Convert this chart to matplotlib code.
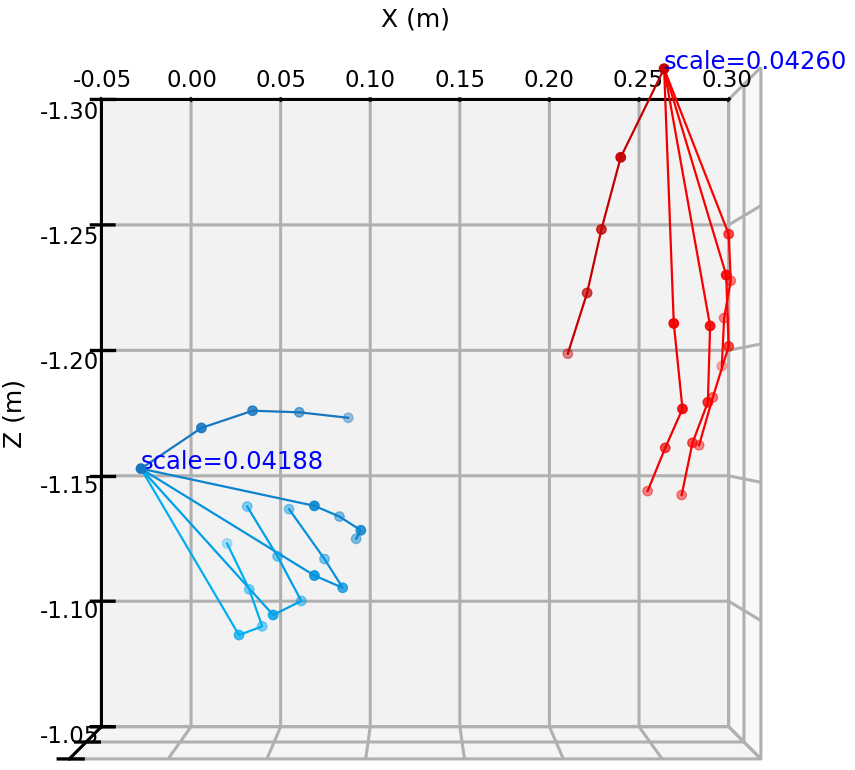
import numpy as np
import matplotlib
matplotlib.use('Agg')
import matplotlib.pyplot as plt

plt.rcParams['font.family'] = ['DejaVu Sans']
plt.rcParams['font.size'] = 16.5
plt.rcParams['grid.linewidth'] = 2.2
plt.rcParams['axes.linewidth'] = 2.2
plt.rcParams['xtick.major.width'] = 2.2
plt.rcParams['ytick.major.width'] = 2.2

# ---- data: 21 keypoints per hand (wrist, thumb x4, index x4, middle x4, ring x4, pinky x4)
blue_x = [-0.0194,
          0.0121, 0.0390, 0.0633, 0.0892,
          0.0718, 0.0846, 0.0963, 0.0935,
          0.0718, 0.0866, 0.0766, 0.0576,
          0.0499, 0.0642, 0.0515, 0.0352,
          0.0316, 0.0433, 0.0364, 0.0240]
blue_y = [0.480,
          0.486, 0.489, 0.503, 0.514,
          0.486, 0.509, 0.489, 0.509,
          0.486, 0.494, 0.509, 0.511,
          0.489, 0.509, 0.509, 0.511,
          0.494, 0.509, 0.509, 0.520]
blue_z = [-1.1541,
          -1.1694, -1.1759, -1.1753, -1.1732,
          -1.1400, -1.1355, -1.1307, -1.1270,
          -1.1137, -1.1088, -1.1193, -1.1383,
          -1.0987, -1.1033, -1.1203, -1.1393,
          -1.0909, -1.0936, -1.1077, -1.1250]

red_x = [0.2562,
         0.2335, 0.2237, 0.2164, 0.2067,
         0.2615, 0.2663, 0.2579, 0.2494,
         0.2809, 0.2801, 0.2726, 0.2676,
         0.2894, 0.2916, 0.2841, 0.2769,
         0.2916, 0.2937, 0.2903, 0.2898]
red_y = [0.480,
         0.483, 0.491, 0.497, 0.511,
         0.483, 0.486, 0.497, 0.511,
         0.486, 0.491, 0.500, 0.511,
         0.486, 0.497, 0.509, 0.511,
         0.497, 0.509, 0.511, 0.520]
red_z = [-1.3046,
         -1.2714, -1.2445, -1.2206, -1.1977,
         -1.2088, -1.1766, -1.1618, -1.1452,
         -1.2079, -1.1791, -1.1637, -1.1437,
         -1.2271, -1.2003, -1.1810, -1.1627,
         -1.2429, -1.2255, -1.2113, -1.1930]

blue_scale_text = "scale=0.04188"
red_scale_text = "scale=0.04260"

fingers = [[0, 1, 2, 3, 4], [0, 5, 6, 7, 8], [0, 9, 10, 11, 12],
           [0, 13, 14, 15, 16], [0, 17, 18, 19, 20]]
blue_colors = ['#1676bf', '#0a84cf', '#0392dc', '#00a0e8', '#00aef2']
red_colors = ['#c40000', '#f00000', '#f60000', '#fa0000', '#ff0000']

x_ticks = [-0.05, 0.00, 0.05, 0.10, 0.15, 0.20, 0.25, 0.30]
z_ticks = [-1.30, -1.25, -1.20, -1.15, -1.10, -1.05]
y_ticks = [0.40, 0.50, 0.60]

fig = plt.figure(figsize=(8.55, 7.7), dpi=100)
ax = fig.add_subplot(projection='3d')
ax.set_position([-0.0267, -0.05, 1, 1])

for (xs, ys, zs, cols, txt) in [(blue_x, blue_y, blue_z, blue_colors, blue_scale_text),
                                (red_x, red_y, red_z, red_colors, red_scale_text)]:
    xs = np.array(xs); ys = np.array(ys); zs = np.array(zs)
    for fi, f in enumerate(fingers):
        ax.plot(xs[f], ys[f], zs[f], color=cols[fi], lw=1.6)
    pcols = [cols[0]] + [cols[i // 4] for i in range(20)]
    ax.scatter(xs, ys, zs, c=pcols, s=46, depthshade=True)
    ax.text(xs[0], ys[0], zs[0], txt, color='blue', fontsize=17.5)

ax.set_xlim(-0.05, 0.30)
ax.set_ylim(0.40, 0.60)
ax.set_zlim(-1.30, -1.05)
ax.invert_zaxis()
ax.set_box_aspect((1, 0.618, 1), zoom=1.28)
ax.view_init(elev=0.01, azim=-90.01)
ax.set_xticks(x_ticks)
ax.set_xticklabels([f"{v:.2f}" for v in x_ticks])
ax.set_zticks(z_ticks)
ax.set_zticklabels([f"{v:.2f}" for v in z_ticks])
ax.set_yticks(y_ticks)
ax.set_yticklabels([])
ax.set_xlabel('X (m)', fontsize=18, labelpad=18)
ax.zaxis.set_rotate_label(False)
ax.set_zlabel('Z (m)', fontsize=18, rotation=90, labelpad=21.5)
ax.xaxis.set_ticks_position('lower')
ax.xaxis.set_label_position('lower')
ax.xaxis.set_tick_params(pad=7)
ax.zaxis.set_tick_params(pad=7.5)

for axis in (ax.xaxis, ax.yaxis, ax.zaxis):
    axis._axinfo['grid']['linewidth'] = 2.2
    axis._axinfo['axisline']['linewidth'] = 2.4
    axis._axinfo['tick']['outward_factor'] = 0.25
    axis._axinfo['tick']['inward_factor'] = 0.2
    try:
        axis._axinfo['tick']['linewidth'][True] = 2.4
    except Exception:
        pass

fig.savefig('out.png', dpi=100)
